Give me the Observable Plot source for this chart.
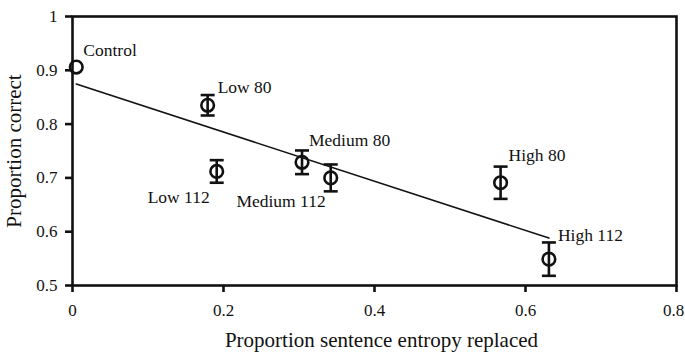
<!DOCTYPE html>
<html>
<head>
<meta charset="utf-8">
<script src="https://cdn.jsdelivr.net/npm/d3@7"></script>
<script src="https://cdn.jsdelivr.net/npm/@observablehq/plot@0.6"></script>
<style>
  body { margin: 0; background: #fff; }
  #chart svg { display: block; }
</style>
</head>
<body>
<div id="chart"></div>
<script>
// Conditions and their measured recognition accuracy
const conditions = ["Control", "Low 80", "Low 112", "Medium 80", "Medium 112", "High 80", "High 112"];
const entropyReplaced = [0.005, 0.179, 0.191, 0.304, 0.342, 0.567, 0.631];
const proportionCorrect = [0.906, 0.835, 0.712, 0.729, 0.700, 0.691, 0.549];
const standardError = [0, 0.019, 0.021, 0.022, 0.025, 0.030, 0.031];

const xTicks = [0, 0.2, 0.4, 0.6, 0.8];
const yTicks = [0.5, 0.6, 0.7, 0.8, 0.9, 1];

const xTitle = "Proportion sentence entropy replaced";
const yTitle = "Proportion correct";

const rows = conditions.map((condition, i) => ({
  condition,
  x: entropyReplaced[i],
  y: proportionCorrect[i],
  err: standardError[i],
  lo: proportionCorrect[i] - standardError[i],
  hi: proportionCorrect[i] + standardError[i]
}));
const withError = rows.filter(d => d.err > 0);

// Where each condition's label sits relative to its marker
const labelPlacement = {
  "Control":    {textAnchor: "start", dx: 7,  dy: -17},
  "Low 80":     {textAnchor: "start", dx: 10, dy: -18},
  "Low 112":    {textAnchor: "end",   dx: -7, dy: 26},
  "Medium 80":  {textAnchor: "start", dx: 7,  dy: -22},
  "Medium 112": {textAnchor: "end",   dx: -5, dy: 23},
  "High 80":    {textAnchor: "start", dx: 8,  dy: -27},
  "High 112":   {textAnchor: "start", dx: 9,  dy: -24}
};

// Horizontal cap drawn at the ends of each error bar
const capSymbol = {
  draw(context, size) {
    const w = Math.sqrt(size / Math.PI);
    context.moveTo(-w, 0);
    context.lineTo(w, 0);
  }
};

const ink = "#111";
const font = "'Liberation Serif', 'Times New Roman', serif";
const tickFont = 17;

const chart = Plot.plot({
  width: 685,
  height: 353,
  marginLeft: 72,
  marginRight: 9,
  marginTop: 16,
  marginBottom: 68,
  style: {fontFamily: font, fontSize: "17px", color: ink, background: "#fff"},
  x: {domain: [0, 0.8]},
  y: {domain: [0.5, 1]},
  marks: [
    Plot.frame({stroke: ink, strokeWidth: 2.6}),
    Plot.axisX({ticks: xTicks, tickFormat: null, text: null, tickSize: 7,
      strokeWidth: 2.6, stroke: ink, label: null}),
    // tick labels; the last one sits against the right edge so it is nudged inward
    Plot.axisX({ticks: xTicks.slice(0, -1), tickFormat: d => String(d), tickSize: 0, tickPadding: 18,
      fontSize: tickFont, fill: ink, label: null}),
    Plot.axisX({ticks: xTicks.slice(-1), tickFormat: d => String(d), tickSize: 0, tickPadding: 18,
      fontSize: tickFont, fill: ink, dx: -3, label: null}),
    Plot.axisY({ticks: yTicks, tickFormat: d => String(d), tickSize: 7, tickPadding: 8,
      strokeWidth: 2.6, stroke: ink, fontSize: tickFont, label: null}),
    Plot.linearRegressionY(rows, {x: "x", y: "y", ci: 0, stroke: ink, strokeWidth: 1.6}),
    Plot.ruleX(withError, {x: "x", y1: "lo", y2: "hi", stroke: ink, strokeWidth: 2.6}),
    Plot.dot(withError, {x: "x", y: "lo", symbol: capSymbol, r: 7, fill: "none", stroke: ink, strokeWidth: 2.6}),
    Plot.dot(withError, {x: "x", y: "hi", symbol: capSymbol, r: 7, fill: "none", stroke: ink, strokeWidth: 2.6}),
    Plot.dot(rows, {x: "x", y: "y", r: 6.3, fill: "none", stroke: ink, strokeWidth: 2.6}),
    ...rows.map(d => Plot.text([d], {
      x: "x", y: "y", text: "condition", fill: ink, fontSize: 17.5,
      ...labelPlacement[d.condition]
    })),
    Plot.text([xTitle], {frameAnchor: "bottom", lineAnchor: "middle", textAnchor: "middle",
      dx: 7, dy: 55, fontSize: 21, fill: ink}),
    Plot.text([yTitle], {frameAnchor: "left", lineAnchor: "middle", textAnchor: "middle",
      dx: -58, rotate: -90, fontSize: 21, fill: ink})
  ]
});

document.getElementById("chart").appendChild(chart);
</script>
</body>
</html>
